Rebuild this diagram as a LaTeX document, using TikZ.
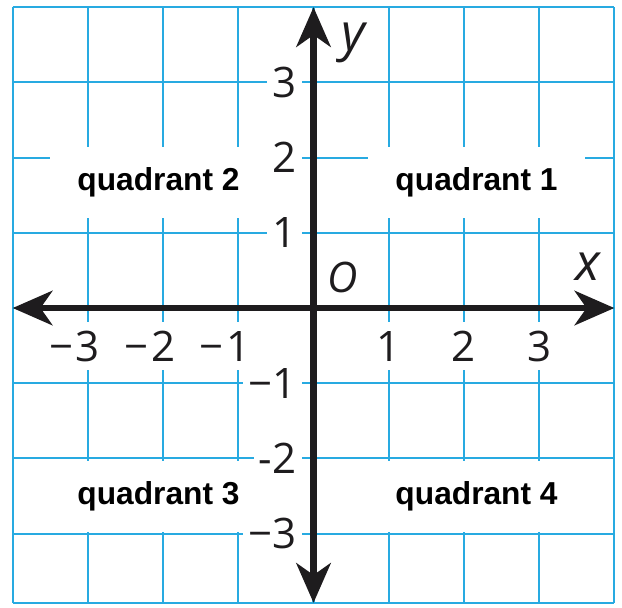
\documentclass[tikz,border=0pt]{standalone}
\usepackage{fontspec}
\usepackage{xcolor}
\usetikzlibrary{arrows.meta}
\newfontfamily\tickfont{Open Sans}
\newfontfamily\quadfont{Liberation Sans}
\definecolor{gridblue}{RGB}{40, 170, 225}
\definecolor{axisblack}{RGB}{30, 28, 30}

\begin{document}
\begin{tikzpicture}[
  gridline/.style={draw=gridblue, line width=0.8pt},
  axisline/.style={
    draw=axisblack, line width=2.4pt,
    {Stealth[length=15pt, width=13pt, inset=4.5pt]}-{Stealth[length=15pt, width=13pt, inset=4.5pt]}
  },
  xtick/.style={
    fill=white, inner sep=3.4pt,
    font=\tickfont\fontsize{15.9pt}{18pt}\selectfont, text=axisblack
  },
  ytick/.style={xtick, anchor=east, inner xsep=2pt},
  axislabel/.style={
    anchor=base, inner sep=0pt,
    font=\tickfont\itshape\fontsize{19.5pt}{22pt}\selectfont, text=axisblack
  },
  quadbox/.style={
    rectangle, fill=white,
    minimum width=2.886cm, minimum height=0.944cm,
    font=\quadfont\bfseries\fontsize{12pt}{14pt}\selectfont, text=black
  },
]

\useasboundingbox (-4.169, -3.976) rectangle (4.102, 4.096);

%% ================================================================
%% GRID PAPER
%% ================================================================
\draw[gridline] (-4, -3.92) grid (4, 4);
\draw[gridline] (-4, -3.92) -- (4, -3.92);

%% ================================================================
%% QUADRANT LABELS
%% ================================================================
\node[quadbox] (q1) at ( 2.168,  1.669) {quadrant 1};
\node[quadbox] (q2) at (-2.061,  1.669) {quadrant 2};
\node[quadbox] (q3) at (-2.061, -2.5)   {quadrant 3};
\node[quadbox] (q4) at ( 2.168, -2.5)   {quadrant 4};

%% ================================================================
%% TICK LABELS
%% ================================================================
% x axis
\node[xtick] (xm3) at (-3, -0.505) {\llap{−\kern1pt}3};
\node[xtick] (xm2) at (-2, -0.505) {\llap{−\kern1pt}2};
\node[xtick] (xm1) at (-1, -0.505) {\llap{−\kern1pt}1};
\node[xtick] (xp1) at ( 1, -0.505) {1};
\node[xtick] (xp2) at ( 2, -0.505) {2};
\node[xtick] (xp3) at ( 3, -0.505) {3};

% y axis
\node[ytick] (yp3) at (-0.15,  3) {3};
\node[ytick] (yp2) at (-0.15,  2) {2};
\node[ytick] (yp1) at (-0.15,  1) {1};
\node[ytick] (ym1) at (-0.15, -1) {−1};
\node[ytick] (ym2) at (-0.15, -2) {-2};
\node[ytick] (ym3) at (-0.15, -3) {−3};

%% ================================================================
%% AXES
%% ================================================================
\coordinate (xleft)   at (-4, 0);
\coordinate (xright)  at ( 4, 0);
\coordinate (ybottom) at (0, -3.92);
\coordinate (ytop)    at (0,  4);

\draw[axisline] (xleft) -- (xright);
\draw[axisline] (ybottom) -- (ytop);

\node[axislabel] (xname) at (3.65, 0.372) {x};
\node[axislabel] (yname) at (0.525, 3.43) {y};
\node[axislabel, font=\tickfont\itshape\fontsize{15.9pt}{18pt}\selectfont]
  (origin) at (0.392, 0.213) {O};

\end{tikzpicture}
\end{document}
